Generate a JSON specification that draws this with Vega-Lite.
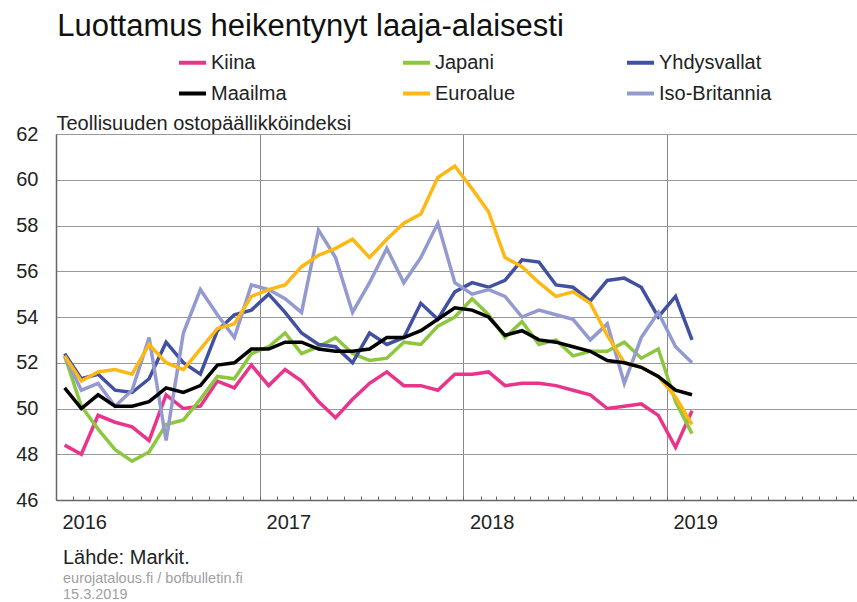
{
  "$schema": "https://vega.github.io/schema/vega-lite/v6.json",
  "padding": {"left": 15, "top": 11, "right": 0, "bottom": 0},
  "background": "white",
  "config": {
    "font": "Liberation Sans",
    "view": {"stroke": "#777", "strokeWidth": 1}
  },
  "title": {
    "text": "Luottamus heikentynyt laaja-alaisesti",
    "anchor": "start",
    "frame": "bounds",
    "dx": 42,
    "fontSize": 31,
    "fontWeight": "normal",
    "color": "#111",
    "offset": 4
  },
  "vconcat": [
    {
      "width": 801,
      "height": 366,
      "title": {
        "text": "Lähde: Markit.",
        "subtitle": ["eurojatalous.fi / bofbulletin.fi", "15.3.2019"],
        "orient": "bottom",
        "anchor": "start",
        "frame": "group",
        "dx": 7,
        "fontSize": 20,
        "fontWeight": "normal",
        "color": "#222",
        "subtitleFontSize": 14.5,
        "subtitleColor": "#a0a0a0",
        "subtitlePadding": 4,
        "subtitleLineHeight": 16,
        "offset": 16
      },
      "data": {
        "values": [
          {"kk": "2016-01", "Kiina": 48.4, "Japani": 52.3, "Yhdysvallat": 52.4, "Maailma": 50.9, "Euroalue": 52.3, "Iso-Britannia": 52.3},
          {"kk": "2016-02", "Kiina": 48.0, "Japani": 50.1, "Yhdysvallat": 51.3, "Maailma": 50.0, "Euroalue": 51.2, "Iso-Britannia": 50.8},
          {"kk": "2016-03", "Kiina": 49.7, "Japani": 49.1, "Yhdysvallat": 51.5, "Maailma": 50.6, "Euroalue": 51.6, "Iso-Britannia": 51.1},
          {"kk": "2016-04", "Kiina": 49.4, "Japani": 48.2, "Yhdysvallat": 50.8, "Maailma": 50.1, "Euroalue": 51.7, "Iso-Britannia": 50.1},
          {"kk": "2016-05", "Kiina": 49.2, "Japani": 47.7, "Yhdysvallat": 50.7, "Maailma": 50.1, "Euroalue": 51.5, "Iso-Britannia": 50.8},
          {"kk": "2016-06", "Kiina": 48.6, "Japani": 48.1, "Yhdysvallat": 51.3, "Maailma": 50.3, "Euroalue": 52.8, "Iso-Britannia": 53.1},
          {"kk": "2016-07", "Kiina": 50.6, "Japani": 49.3, "Yhdysvallat": 52.9, "Maailma": 50.9, "Euroalue": 52.0, "Iso-Britannia": 48.6},
          {"kk": "2016-08", "Kiina": 50.0, "Japani": 49.5, "Yhdysvallat": 52.0, "Maailma": 50.7, "Euroalue": 51.7, "Iso-Britannia": 53.3},
          {"kk": "2016-09", "Kiina": 50.1, "Japani": 50.4, "Yhdysvallat": 51.5, "Maailma": 51.0, "Euroalue": 52.6, "Iso-Britannia": 55.2},
          {"kk": "2016-10", "Kiina": 51.2, "Japani": 51.4, "Yhdysvallat": 53.4, "Maailma": 51.9, "Euroalue": 53.5, "Iso-Britannia": 54.1},
          {"kk": "2016-11", "Kiina": 50.9, "Japani": 51.3, "Yhdysvallat": 54.1, "Maailma": 52.0, "Euroalue": 53.7, "Iso-Britannia": 53.1},
          {"kk": "2016-12", "Kiina": 51.9, "Japani": 52.4, "Yhdysvallat": 54.3, "Maailma": 52.6, "Euroalue": 54.9, "Iso-Britannia": 55.4},
          {"kk": "2017-01", "Kiina": 51.0, "Japani": 52.7, "Yhdysvallat": 55.0, "Maailma": 52.6, "Euroalue": 55.2, "Iso-Britannia": 55.2},
          {"kk": "2017-02", "Kiina": 51.7, "Japani": 53.3, "Yhdysvallat": 54.2, "Maailma": 52.9, "Euroalue": 55.4, "Iso-Britannia": 54.8},
          {"kk": "2017-03", "Kiina": 51.2, "Japani": 52.4, "Yhdysvallat": 53.3, "Maailma": 52.9, "Euroalue": 56.2, "Iso-Britannia": 54.2},
          {"kk": "2017-04", "Kiina": 50.3, "Japani": 52.7, "Yhdysvallat": 52.8, "Maailma": 52.6, "Euroalue": 56.7, "Iso-Britannia": 57.8},
          {"kk": "2017-05", "Kiina": 49.6, "Japani": 53.1, "Yhdysvallat": 52.7, "Maailma": 52.5, "Euroalue": 57.0, "Iso-Britannia": 56.6},
          {"kk": "2017-06", "Kiina": 50.4, "Japani": 52.4, "Yhdysvallat": 52.0, "Maailma": 52.5, "Euroalue": 57.4, "Iso-Britannia": 54.2},
          {"kk": "2017-07", "Kiina": 51.1, "Japani": 52.1, "Yhdysvallat": 53.3, "Maailma": 52.6, "Euroalue": 56.6, "Iso-Britannia": 55.5},
          {"kk": "2017-08", "Kiina": 51.6, "Japani": 52.2, "Yhdysvallat": 52.8, "Maailma": 53.1, "Euroalue": 57.4, "Iso-Britannia": 57.0},
          {"kk": "2017-09", "Kiina": 51.0, "Japani": 52.9, "Yhdysvallat": 53.1, "Maailma": 53.1, "Euroalue": 58.1, "Iso-Britannia": 55.5},
          {"kk": "2017-10", "Kiina": 51.0, "Japani": 52.8, "Yhdysvallat": 54.6, "Maailma": 53.4, "Euroalue": 58.5, "Iso-Britannia": 56.6},
          {"kk": "2017-11", "Kiina": 50.8, "Japani": 53.6, "Yhdysvallat": 53.9, "Maailma": 53.9, "Euroalue": 60.1, "Iso-Britannia": 58.1},
          {"kk": "2017-12", "Kiina": 51.5, "Japani": 54.0, "Yhdysvallat": 55.1, "Maailma": 54.4, "Euroalue": 60.6, "Iso-Britannia": 55.5},
          {"kk": "2018-01", "Kiina": 51.5, "Japani": 54.8, "Yhdysvallat": 55.5, "Maailma": 54.3, "Euroalue": 59.6, "Iso-Britannia": 55.0},
          {"kk": "2018-02", "Kiina": 51.6, "Japani": 54.1, "Yhdysvallat": 55.3, "Maailma": 54.0, "Euroalue": 58.6, "Iso-Britannia": 55.2},
          {"kk": "2018-03", "Kiina": 51.0, "Japani": 53.1, "Yhdysvallat": 55.6, "Maailma": 53.2, "Euroalue": 56.6, "Iso-Britannia": 54.9},
          {"kk": "2018-04", "Kiina": 51.1, "Japani": 53.8, "Yhdysvallat": 56.5, "Maailma": 53.4, "Euroalue": 56.2, "Iso-Britannia": 54.0},
          {"kk": "2018-05", "Kiina": 51.1, "Japani": 52.8, "Yhdysvallat": 56.4, "Maailma": 53.0, "Euroalue": 55.5, "Iso-Britannia": 54.3},
          {"kk": "2018-06", "Kiina": 51.0, "Japani": 53.0, "Yhdysvallat": 55.4, "Maailma": 52.9, "Euroalue": 54.9, "Iso-Britannia": 54.1},
          {"kk": "2018-07", "Kiina": 50.8, "Japani": 52.3, "Yhdysvallat": 55.3, "Maailma": 52.7, "Euroalue": 55.1, "Iso-Britannia": 53.9},
          {"kk": "2018-08", "Kiina": 50.6, "Japani": 52.5, "Yhdysvallat": 54.7, "Maailma": 52.5, "Euroalue": 54.6, "Iso-Britannia": 53.0},
          {"kk": "2018-09", "Kiina": 50.0, "Japani": 52.5, "Yhdysvallat": 55.6, "Maailma": 52.1, "Euroalue": 53.2, "Iso-Britannia": 53.7},
          {"kk": "2018-10", "Kiina": 50.1, "Japani": 52.9, "Yhdysvallat": 55.7, "Maailma": 52.0, "Euroalue": 52.0, "Iso-Britannia": 51.1},
          {"kk": "2018-11", "Kiina": 50.2, "Japani": 52.2, "Yhdysvallat": 55.3, "Maailma": 51.8, "Euroalue": 51.8, "Iso-Britannia": 53.1},
          {"kk": "2018-12", "Kiina": 49.7, "Japani": 52.6, "Yhdysvallat": 54.0, "Maailma": 51.4, "Euroalue": 51.4, "Iso-Britannia": 54.2},
          {"kk": "2019-01", "Kiina": 48.3, "Japani": 50.3, "Yhdysvallat": 54.9, "Maailma": 50.8, "Euroalue": 50.5, "Iso-Britannia": 52.7},
          {"kk": "2019-02", "Kiina": 49.9, "Japani": 48.9, "Yhdysvallat": 53.0, "Maailma": 50.6, "Euroalue": 49.3, "Iso-Britannia": 52.0}
        ]
      },
      "transform": [
        {"fold": ["Kiina", "Japani", "Yhdysvallat", "Iso-Britannia", "Euroalue", "Maailma"], "as": ["sarja", "arvo"]}
      ],
      "mark": {"type": "line", "strokeWidth": 3.5},
      "encoding": {
        "x": {
          "field": "kk",
          "type": "temporal",
          "timeUnit": "utcyearmonth",
          "bandPosition": 0.5,
          "scale": {
            "type": "utc",
            "domain": [
              {"year": 2016, "month": 1, "date": 1, "utc": true},
              {"year": 2019, "month": 12, "date": 8, "utc": true}
            ]
          },
          "axis": {
            "title": null,
            "tickCount": {"interval": "month", "step": 1},
            "labelExpr": "utcmonth(datum.value) == 0 ? utcFormat(datum.value, '%Y') : ''",
            "labelAlign": "left",
            "labelOffset": 6,
            "labelFontSize": 20,
            "labelColor": "#222",
            "labelPadding": 16,
            "labelOverlap": false,
            "labelFlush": false,
            "labelBound": false,
            "ticks": true,
            "tickSize": -4,
            "tickColor": "#666",
            "domainColor": "#666",
            "domainWidth": 1.5,
            "grid": true,
            "gridColor": "#888",
            "gridOpacity": {"condition": {"test": "utcmonth(datum.value) == 0", "value": 1}, "value": 0}
          }
        },
        "y": {
          "field": "arvo",
          "type": "quantitative",
          "scale": {"domain": [46, 62], "nice": false, "zero": false},
          "axis": {
            "title": "Teollisuuden ostopäällikköindeksi",
            "titleAngle": 0,
            "titleAlign": "left",
            "titleX": 0,
            "titleY": -5,
            "titleBaseline": "alphabetic",
            "titleFontSize": 20,
            "titleFontWeight": "normal",
            "titleColor": "#222",
            "values": [46, 48, 50, 52, 54, 56, 58, 60, 62],
            "labelFontSize": 20,
            "labelColor": "#222",
            "labelPadding": 18,
            "ticks": false,
            "grid": true,
            "gridColor": "#999",
            "domainColor": "#666",
            "domainWidth": 1.5
          }
        },
        "color": {
          "field": "sarja",
          "type": "nominal",
          "scale": {
            "domain": ["Kiina", "Japani", "Yhdysvallat", "Maailma", "Euroalue", "Iso-Britannia"],
            "range": ["#E8358B", "#8DC63F", "#4150A0", "#000000", "#FDB813", "#939AD0"]
          },
          "legend": {
            "title": null,
            "orient": "none",
            "legendX": 121,
            "legendY": -87,
            "columns": 3,
            "direction": "horizontal",
            "gridAlign": "all",
            "columnPadding": 71,
            "rowPadding": 5,
            "symbolType": "stroke",
            "symbolSize": 729,
            "symbolStrokeWidth": 4,
            "labelFontSize": 20,
            "labelColor": "#222",
            "labelOffset": 3,
            "labelLimit": 300,
            "padding": 0
          }
        }
      }
    }
  ]
}
